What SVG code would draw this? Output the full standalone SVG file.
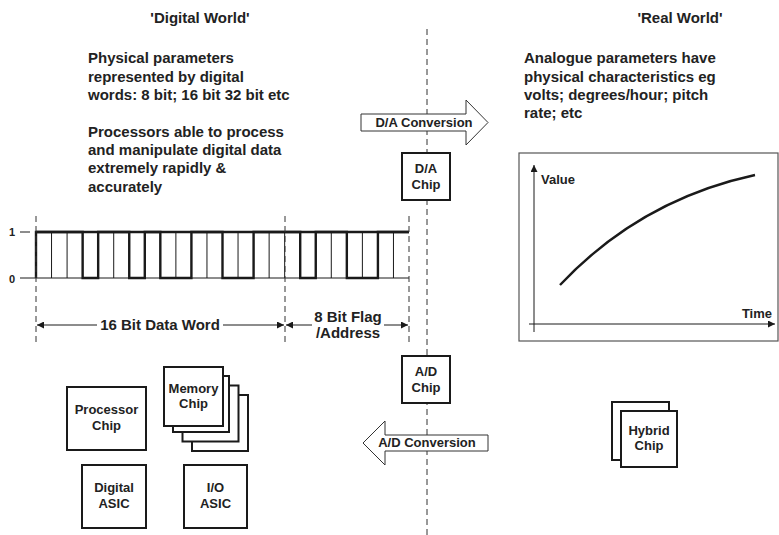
<svg xmlns="http://www.w3.org/2000/svg" width="779" height="535" viewBox="0 0 779 535">
<defs>
<style>
text{font-family:"Liberation Sans",Arial,sans-serif;font-weight:bold;fill:#222}
.big{font-size:15px}
.mid{font-size:13px}
.c{text-anchor:middle}
.chip{fill:#fff;stroke:#1a1a1a;stroke-width:2}
.dash{stroke:#333;stroke-width:1;stroke-dasharray:6,4;fill:none}
.thin{stroke:#1a1a1a;stroke-width:1;fill:none}
.thick{stroke:#1a1a1a;stroke-width:2.4;fill:none}
.conv{fill:#fff;stroke:#333;stroke-width:1}
</style>
<marker id="ah" viewBox="0 0 10 10" refX="10" refY="5" markerWidth="8" markerHeight="7" markerUnits="userSpaceOnUse" orient="auto-start-reverse">
<path d="M0,0 L10,5 L0,10 z" fill="#1a1a1a"/>
</marker>
<marker id="ax" viewBox="0 0 10 10" refX="10" refY="5" markerWidth="9" markerHeight="7" markerUnits="userSpaceOnUse" orient="auto">
<path d="M0,0 L10,5 L0,10 z" fill="#1a1a1a"/>
</marker>
</defs>
<rect width="779" height="535" fill="#fff"/>

<g id="headings">
<text class="big c" x="200" y="23">'Digital World'</text>
<text class="big c" x="680" y="23">'Real World'</text>
</g>

<g id="digital-text">
<text class="big" x="88" y="63">Physical parameters</text>
<text class="big" x="88" y="82">represented by digital</text>
<text class="big" x="88" y="100">words: 8 bit; 16 bit 32 bit etc</text>
<text class="big" x="88" y="137">Processors able to process</text>
<text class="big" x="88" y="155">and manipulate digital data</text>
<text class="big" x="88" y="173">extremely rapidly &amp;</text>
<text class="big" x="88" y="192">accurately</text>
</g>

<g id="real-text">
<text class="big" x="524" y="63">Analogue parameters have</text>
<text class="big" x="524" y="82">physical characteristics eg</text>
<text class="big" x="524" y="100">volts; degrees/hour; pitch</text>
<text class="big" x="524" y="118">rate; etc</text>
</g>

<g id="divider">
<line class="dash" x1="427" y1="29" x2="427" y2="535"/>
</g>

<g id="waveform">
<text class="c" style="font-size:11px" x="12" y="236">1</text>
<text class="c" style="font-size:11px" x="12" y="283">0</text>
<line class="thin" x1="20" y1="232" x2="30" y2="232"/>
<line class="thin" x1="20" y1="278" x2="409" y2="278"/>
<path class="thin" d="M51.54,232V278M67.08,232V278M82.63,232V278M98.17,232V278M113.71,232V278M129.25,232V278M144.79,232V278M160.33,232V278M175.88,232V278M191.42,232V278M206.96,232V278M222.5,232V278M238.04,232V278M253.58,232V278M269.13,232V278M284.67,232V278M300.21,232V278M315.75,232V278M331.29,232V278M346.83,232V278M362.38,232V278M377.92,232V278M393.46,232V278"/>
<line class="thick" x1="36" y1="232" x2="409" y2="232"/>
<path class="thick" d="M36,278V232H82.63V278H98.17V232H129.25V278H144.79V232H160.33V278H191.42V232H222.5V278H253.58V232H300.21V278H315.75V232H346.83V278H377.92V232H409"/>
<line class="dash" x1="36" y1="216" x2="36" y2="343"/>
<line class="dash" x1="285" y1="216" x2="285" y2="343"/>
<line class="dash" x1="409" y1="216" x2="409" y2="343"/>
</g>

<g id="dimensions">
<line class="thin" x1="97" y1="325" x2="37" y2="325" marker-end="url(#ah)"/>
<line class="thin" x1="223" y1="325" x2="284" y2="325" marker-end="url(#ah)"/>
<text class="big c" x="160" y="330">16 Bit Data Word</text>
<line class="thin" x1="312" y1="325" x2="286" y2="325" marker-end="url(#ah)"/>
<line class="thin" x1="384" y1="325" x2="408" y2="325" marker-end="url(#ah)"/>
<text class="big c" x="348" y="322">8 Bit Flag</text>
<text class="big c" x="348" y="338">/Address</text>
</g>

<g id="da-conversion">
<polygon class="conv" points="361,114 466,114 466,100 488,122.5 466,145 466,131 361,131"/>
<text class="mid c" x="424" y="127">D/A Conversion</text>
</g>

<g id="da-chip">
<rect class="chip" x="402" y="153" width="48" height="47"/>
<text class="mid c" x="426" y="173">D/A</text>
<text class="mid c" x="426" y="189">Chip</text>
</g>

<g id="ad-chip">
<rect class="chip" x="402" y="356" width="48" height="47"/>
<text class="mid c" x="426" y="376">A/D</text>
<text class="mid c" x="426" y="392">Chip</text>
</g>

<g id="ad-conversion">
<polygon class="conv" points="363,443 385,421 385,435 488,435 488,451 385,451 385,465"/>
<text class="mid c" x="427" y="447">A/D Conversion</text>
</g>

<g id="graph">
<rect x="519" y="153" width="259" height="188" fill="#fff" stroke="#555" stroke-width="1.2"/>
<line class="thin" x1="534" y1="332" x2="534" y2="165" marker-end="url(#ax)"/>
<line class="thin" x1="529" y1="324" x2="775" y2="324" marker-end="url(#ax)"/>
<text class="mid" x="541" y="184">Value</text>
<text class="mid" x="772" y="318" text-anchor="end">Time</text>
<path d="M560,285 Q640,200 755,175" fill="none" stroke="#1a1a1a" stroke-width="2.4"/>
</g>

<g id="processor-chip">
<rect class="chip" x="67" y="387" width="79" height="63"/>
<text class="mid c" x="106.5" y="414">Processor</text>
<text class="mid c" x="106.5" y="430">Chip</text>
</g>

<g id="memory-chip">
<rect class="chip" x="192" y="395" width="56" height="56"/>
<rect class="chip" x="182.5" y="385.5" width="56" height="56"/>
<rect class="chip" x="173" y="376" width="56" height="56"/>
<rect class="chip" x="164" y="367" width="59" height="59"/>
<text class="mid c" x="193.5" y="393">Memory</text>
<text class="mid c" x="193.5" y="408">Chip</text>
</g>

<g id="digital-asic">
<rect class="chip" x="82" y="465" width="64" height="63"/>
<text class="mid c" x="114" y="492">Digital</text>
<text class="mid c" x="114" y="508">ASIC</text>
</g>

<g id="io-asic">
<rect class="chip" x="184" y="465" width="63" height="63"/>
<text class="mid c" x="215.5" y="492">I/O</text>
<text class="mid c" x="215.5" y="508">ASIC</text>
</g>

<g id="hybrid-chip">
<rect class="chip" x="612" y="402" width="57" height="58"/>
<rect class="chip" x="621" y="411" width="56" height="56"/>
<text class="mid c" x="649" y="435">Hybrid</text>
<text class="mid c" x="649" y="450">Chip</text>
</g>
</svg>
